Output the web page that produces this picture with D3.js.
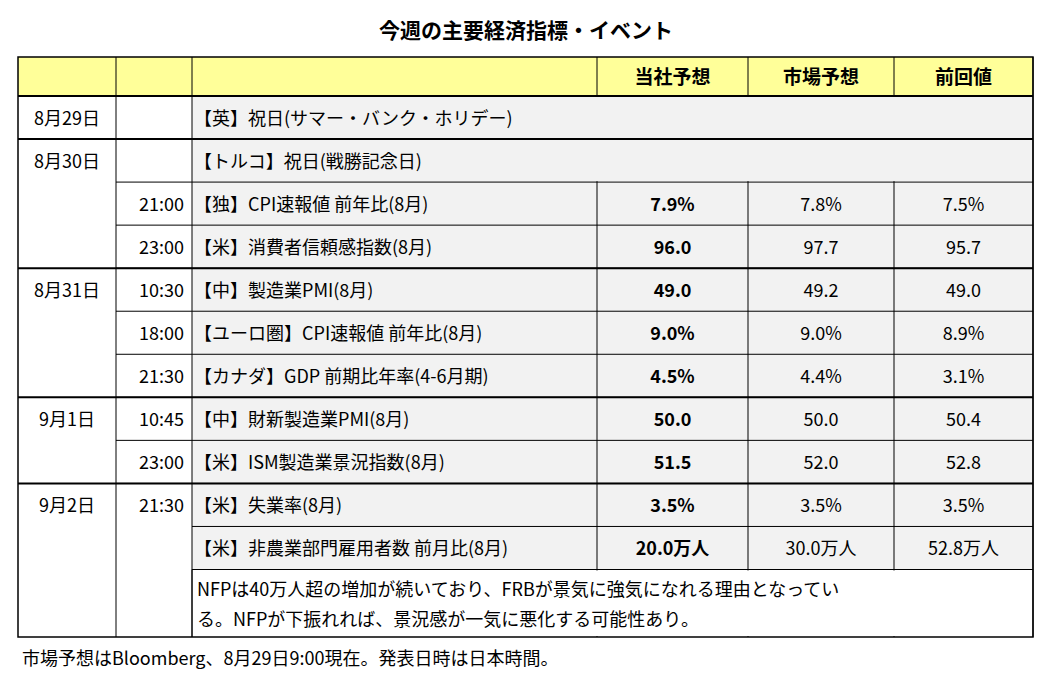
<!DOCTYPE html><html><head><meta charset="utf-8"><script src="https://cdn.jsdelivr.net/npm/d3@7"></script>
<style>body{margin:0;background:#fff}text{font-family:"Noto Sans CJK JP",sans-serif}</style></head><body><svg id="c" width="1053" height="675"></svg><script>
const title="今週の主要経済指標・イベント";
const headers=["","","","当社予想","市場予想","前回値"];
const dates=["8月29日","8月30日","","","8月31日","","","9月1日","","9月2日",""];
const times=["","","21:00","23:00","10:30","18:00","21:30","10:45","23:00","21:30",""];
const events=["【英】祝日(サマー・バンク・ホリデー)","【トルコ】祝日(戦勝記念日)","【独】CPI速報値 前年比(8月)","【米】消費者信頼感指数(8月)","【中】製造業PMI(8月)","【ユーロ圏】CPI速報値 前年比(8月)","【カナダ】GDP 前期比年率(4-6月期)","【中】財新製造業PMI(8月)","【米】ISM製造業景況指数(8月)","【米】失業率(8月)","【米】非農業部門雇用者数 前月比(8月)"];
const ours=["","","7.9%","96.0","49.0","9.0%","4.5%","50.0","51.5","3.5%","20.0万人"];
const market=["","","7.8%","97.7","49.2","9.0%","4.4%","50.0","52.0","3.5%","30.0万人"];
const prev=["","","7.5%","95.7","49.0","8.9%","3.1%","50.4","52.8","3.5%","52.8万人"];
const note=["NFPは40万人超の増加が続いており、FRBが景気に強気になれる理由となってい","る。NFPが下振れれば、景況感が一気に悪化する可能性あり。"];
const footer="市場予想はBloomberg、8月29日9:00現在。発表日時は日本時間。";
const dateGroups=[[0,0],[1,3],[4,6],[7,8],[9,11]];
const timeGroups=[[0,0],[1,1],[2,2],[3,3],[4,4],[5,5],[6,6],[7,7],[8,8],[9,11]];

const svg=d3.select("#c");
const cols=[18,116,192,597,748,894,1033];
const y=d3.scaleLinear().domain([0,11]).range([96,569.5]);
const rowH=y(1)-y(0), T0=57, B0=637;
svg.append("text").attr("x",526).attr("y",38).attr("text-anchor","middle").attr("font-size",21).attr("font-weight","bold").text(title);
svg.append("rect").attr("x",cols[0]).attr("y",T0).attr("width",cols[6]-cols[0]).attr("height",y(0)-T0).attr("fill","#FFFF99");
headers.forEach((h,i)=>{svg.append("text").attr("x",(cols[i]+cols[i+1])/2).attr("y",(T0+y(0))/2+7).attr("text-anchor","middle").attr("font-size",19).attr("font-weight","bold").text(h);});
svg.append("rect").attr("x",cols[2]).attr("y",y(0)).attr("width",cols[6]-cols[2]).attr("height",y(11)-y(0)).attr("fill","#F2F2F2");
const line=(x1,y1,x2,y2,w)=>svg.append("line").attr("x1",x1).attr("y1",y1).attr("x2",x2).attr("y2",y2).attr("stroke","#000").attr("stroke-width",w||1);
for(let r=0;r<=11;r++){line(cols[2],y(r),cols[6],y(r),1);}
for(let c=2;c<=6;c++){line(cols[c],T0,cols[c],B0,1);}
line(cols[1],T0,cols[1],y(0));
svg.append("rect").attr("x",cols[3]-1).attr("y",y(0)+1).attr("width",cols[6]-cols[3]).attr("height",rowH*2-2).attr("fill","#F2F2F2");
line(cols[3],y(1),cols[6],y(1),1);
svg.append("rect").attr("x",cols[2]+1).attr("y",y(11)+1).attr("width",cols[6]-cols[2]-2).attr("height",B0-y(11)-2).attr("fill","#fff");
line(cols[2],y(11),cols[2],B0);
timeGroups.forEach(([a,b])=>{line(cols[1],y(a),cols[2],y(a));});
dateGroups.forEach(([a,b])=>{line(cols[0],y(a),cols[6],y(a),2);});
line(cols[1],y(0),cols[1],B0);
svg.append("rect").attr("x",cols[0]).attr("y",T0).attr("width",cols[6]-cols[0]).attr("height",B0-T0).attr("fill","none").attr("stroke","#000").attr("stroke-width",1.5);
line(cols[0],y(0),cols[6],y(0),1.5);
const ty=r=>y(r)+rowH/2+7;
dates.forEach((d,i)=>{svg.append("text").attr("x",(cols[0]+cols[1])/2).attr("y",ty(i)).attr("text-anchor","middle").attr("font-size",18).text(d);});
times.forEach((d,i)=>{svg.append("text").attr("x",cols[2]-8).attr("y",ty(i)).attr("text-anchor","end").attr("font-size",18).text(d);});
events.forEach((d,i)=>{const t=svg.append("text").attr("x",cols[2]+2).attr("y",ty(i)).attr("font-size",18).text(d);if(t.node().getComputedTextLength()>cols[3]-cols[2]-8)t.attr("textLength",cols[3]-cols[2]-8).attr("lengthAdjust","spacingAndGlyphs");});
[ours,market,prev].forEach((arr,k)=>arr.forEach((d,i)=>{svg.append("text").attr("x",(cols[3+k]+cols[4+k])/2).attr("y",ty(i)).attr("text-anchor","middle").attr("font-size",18).attr("font-weight",k==0?"bold":"normal").text(d);}));
note.forEach((t,i)=>{const n=svg.append("text").attr("x",cols[2]+5).attr("y",y(11)+26+i*30).attr("font-size",18).text(t);if(n.node().getComputedTextLength()>cols[6]-cols[2]-10)n.attr("textLength",cols[6]-cols[2]-10).attr("lengthAdjust","spacingAndGlyphs");});
svg.append("text").attr("x",22).attr("y",665).attr("font-size",18).text(footer);
</script></body></html>
